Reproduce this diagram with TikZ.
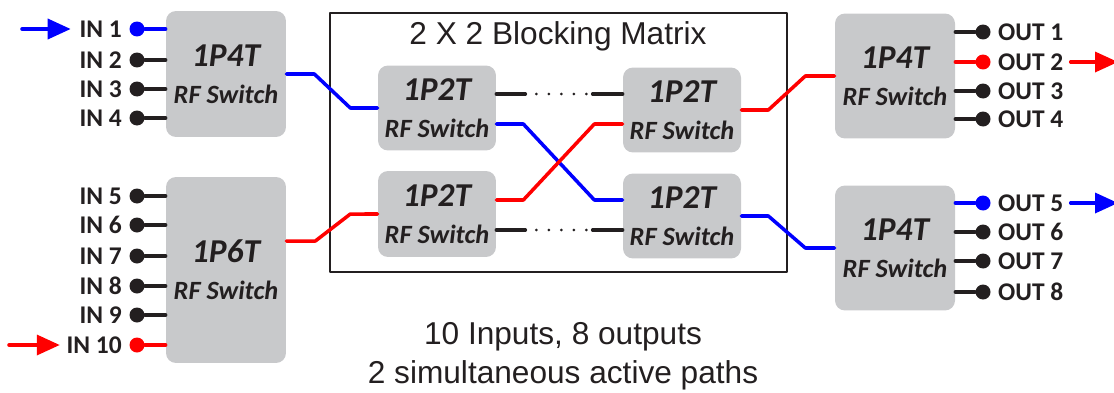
\documentclass[tikz,border=0pt]{standalone}
\usepackage{fontspec}
\setmainfont{Carlito}
\newfontfamily\arialfont{Liberation Sans}
\usetikzlibrary{arrows.meta,positioning}
\definecolor{swgray}{RGB}{200,201,203}
\definecolor{ink}{RGB}{35,31,32}
\newcommand{\swlabel}[1]{{\fontsize{19}{21}\selectfont #1}\\RF Switch}

\begin{document}
\begin{tikzpicture}[x=0.02cm, y=-0.02cm, line join=round, line cap=round,
    sw/.style={fill=swgray, rounded corners=0.2cm, minimum width=2.4cm, align=center,
      text=ink, font=\fontsize{15}{21}\selectfont\bfseries\itshape},
    port/.style={circle, inner sep=0pt, minimum size=0.3cm},
    lbl/.style={inner sep=0pt, text=ink, font=\fontsize{14.5}{16}\selectfont\bfseries},
    wire/.style={line width=2pt},
    gapdots/.style={line width=1.7pt, ink, dash pattern=on 0pt off 0.25cm},
    sig/.style={-{Triangle[length=0.46cm,width=0.4cm]}, line width=2pt}]
  \useasboundingbox (0,0) rectangle (1114,392);

  % switches
  \node[sw, minimum height=2.52cm] (swA) at (226,74) {\swlabel{1P4T}};
  \node[sw, minimum height=3.72cm] (swB) at (226,270) {\swlabel{1P6T}};
  \node[sw, minimum height=2.5cm] (swC) at (895,76) {\swlabel{1P4T}};
  \node[sw, minimum height=2.5cm] (swD) at (895,248) {\swlabel{1P4T}};

  % blocking matrix
  \node[draw=ink, line width=0.8pt, minimum width=9.14cm, minimum height=5.18cm] (mtx) at (558.5,142.5) {};
  \node[text=ink, font=\arialfont\fontsize{18}{20}\selectfont] (mtitle) at (558,36) {2 X 2 Blocking Matrix};
  \node[sw, minimum width=2.36cm, minimum height=1.7cm] (mxA) at (437,108) {\swlabel{1P2T}};
  \node[sw, minimum width=2.36cm, minimum height=1.72cm] (mxB) at (437,214) {\swlabel{1P2T}};
  \node[sw, minimum width=2.36cm, minimum height=1.7cm] (mxC) at (682,110) {\swlabel{1P2T}};
  \node[sw, minimum width=2.36cm, minimum height=1.7cm] (mxD) at (682,216) {\swlabel{1P2T}};

  % inputs
  \foreach \n/\y/\c in {1/29/blue,2/60/ink,3/89/ink,4/118/ink}{
    \node[port, fill=\c] (in\n) at (137,\y) {};
    \node[lbl, left=0.14cm of in\n] (lin\n) {IN \n};
    \draw[wire, \c] (in\n) -- (in\n -| swA.west);
  }
  \foreach \n/\y/\c in {5/196/ink,6/225/ink,7/256/ink,8/286/ink,9/315/ink,10/345/red}{
    \node[port, fill=\c] (in\n) at (137,\y) {};
    \node[lbl, left=0.14cm of in\n] (lin\n) {IN \n};
    \draw[wire, \c] (in\n) -- (in\n -| swB.west);
  }
  \coordinate (src1) at (22,29);
  \coordinate (src10) at (9,345);
  \draw[sig, blue, shorten >=0.17cm] (src1) -- (lin1);
  \draw[sig, red, shorten >=0.13cm] (src10) -- (lin10);

  % outputs
  \foreach \n/\y/\c in {1/32/ink,2/62/red,3/91/ink,4/119/ink}{
    \node[port, fill=\c] (out\n) at (983,\y) {};
    \node[lbl, right=0.14cm of out\n] (lout\n) {OUT \n};
    \draw[wire, \c] (out\n -| swC.east) -- (out\n);
  }
  \foreach \n/\y/\c in {5/203/blue,6/232/ink,7/261/ink,8/292/ink}{
    \node[port, fill=\c] (out\n) at (983,\y) {};
    \node[lbl, right=0.14cm of out\n] (lout\n) {OUT \n};
    \draw[wire, \c] (out\n -| swD.east) -- (out\n);
  }
  \coordinate (dst2) at (1118,62);
  \coordinate (dst5) at (1118,203);
  \draw[sig, red, shorten <=0.14cm] (lout2) -- (dst2);
  \draw[sig, blue, shorten <=0.14cm] (lout5) -- (dst5);

  % active paths
  \draw[wire, blue] (swA.east) -- ++(28,0) -- ++(36,34) -- (mxA.west);
  \draw[wire, red] ([yshift=0.58cm]swB.east) -- ++(29,0) -- ++(35,-27) -- (mxB.west);
  \draw[wire, blue] ([yshift=-0.32cm]mxA.east) -- ++(27,0) -- ++(71,76) -- ([yshift=0.32cm]mxD.west);
  \draw[wire, red] ([yshift=0.28cm]mxB.east) -- ++(27,0) -- ++(71,-76) -- ([yshift=-0.28cm]mxC.west);
  \draw[wire, red] (mxC.east) -- ++(27,0) -- ++(37,-34) -- (swC.west);
  \draw[wire, blue] (mxD.east) -- ++(27,0) -- ++(37,32) -- (swD.west);

  % unused matrix ports
  \draw[wire, ink] ([yshift=0.28cm]mxA.east) -- ++(29,0);
  \draw[gapdots] ([yshift=0.28cm]mxA.east) ++(40,0) -- ++(50,0);
  \draw[wire, ink] ([yshift=0.32cm]mxC.west) -- ++(-30,0);
  \draw[wire, ink] ([yshift=-0.32cm]mxB.east) -- ++(29,0);
  \draw[gapdots] ([yshift=-0.32cm]mxB.east) ++(40,0) -- ++(50,0);
  \draw[wire, ink] ([yshift=-0.28cm]mxD.west) -- ++(-30,0);

  \node[text=ink, align=center, font=\arialfont\fontsize{18}{22.2}\selectfont] (note) at (563,356.5)
    {10 Inputs, 8 outputs\\2 simultaneous active paths};
\end{tikzpicture}
\end{document}
